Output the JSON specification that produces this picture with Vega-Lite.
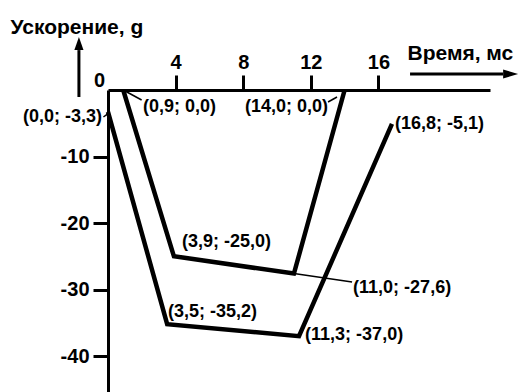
{
  "$schema": "https://vega.github.io/schema/vega-lite/v6.json",
  "width": 382,
  "height": 302,
  "autosize": {"type": "none"},
  "padding": {"left": 108, "top": 90, "right": 29, "bottom": 0},
  "background": "white",
  "config": {
    "view": {"stroke": null},
    "font": "Liberation Sans",
    "axis": {
      "grid": false,
      "domainColor": "black",
      "domainWidth": 3,
      "tickColor": "black",
      "tickWidth": 3,
      "labelColor": "black",
      "labelFont": "Liberation Sans",
      "labelFontSize": 20,
      "labelFontWeight": "bold",
      "titleColor": "black",
      "titleFont": "Liberation Sans",
      "titleFontSize": 21,
      "titleFontWeight": "bold"
    }
  },
  "datasets": {
    "curves": [
      {"curve": "inner", "i": 1, "t": 0.9, "a": 0.0},
      {"curve": "inner", "i": 2, "t": 3.9, "a": -25.0},
      {"curve": "inner", "i": 3, "t": 11.0, "a": -27.6},
      {"curve": "inner", "i": 4, "t": 14.0, "a": 0.0},
      {"curve": "outer", "i": 1, "t": 0.0, "a": -3.3},
      {"curve": "outer", "i": 2, "t": 3.5, "a": -35.2},
      {"curve": "outer", "i": 3, "t": 11.3, "a": -37.0},
      {"curve": "outer", "i": 4, "t": 16.8, "a": -5.1}
    ],
    "labels": [
      {"label": "(0,0; -3,3)", "t": -0.36, "a": -4.06},
      {"label": "(0,9; 0,0)", "t": 2.07, "a": -2.56},
      {"label": "(14,0; 0,0)", "t": 13.02, "a": -2.56},
      {"label": "(16,8; -5,1)", "t": 16.98, "a": -5.04},
      {"label": "(3,9; -25,0)", "t": 4.38, "a": -22.85},
      {"label": "(11,0; -27,6)", "t": 14.5, "a": -29.77},
      {"label": "(3,5; -35,2)", "t": 3.55, "a": -33.37},
      {"label": "(11,3; -37,0)", "t": 11.66, "a": -36.83}
    ],
    "leaders": [
      {"t": 0.9, "a": 0.0, "t2": 1.99, "a2": -1.5},
      {"t": 13.02, "a": -1.8, "t2": 13.55, "a2": -1.05},
      {"t": 11.0, "a": -27.6, "t2": 14.44, "a2": -28.86},
      {"t": -0.27, "a": -4.06, "t2": -0.06, "a2": -3.68}
    ],
    "one": [{"k": 1}]
  },
  "layer": [
    {
      "data": {"name": "curves"},
      "mark": {"type": "line", "color": "black", "strokeWidth": 4.5, "strokeJoin": "miter", "strokeCap": "butt"},
      "encoding": {
        "x": {
          "field": "t", "type": "quantitative",
          "scale": {"domain": [0, 22.6], "nice": false, "zero": false},
          "axis": {
            "orient": "top",
            "values": [4, 8, 12, 16],
            "tickSize": 15,
            "labelPadding": 3,
            "title": "Время, мс",
            "titleX": 299,
            "titleY": -31,
            "titleAlign": "left",
            "titleBaseline": "alphabetic",
            "titleAngle": 0
          }
        },
        "y": {
          "field": "a", "type": "quantitative",
          "scale": {"domain": [-45.4, 0], "nice": false, "zero": false},
          "axis": {
            "orient": "left",
            "values": [-10, -20, -30, -40],
            "labelExpr": "'' + datum.value",
            "tickSize": 15,
            "labelPadding": 4,
            "title": "Ускорение, g",
            "titleX": -98,
            "titleY": -57,
            "titleAlign": "left",
            "titleBaseline": "alphabetic",
            "titleAngle": 0
          }
        },
        "detail": {"field": "curve"},
        "order": {"field": "i"}
      }
    },
    {
      "data": {"name": "leaders"},
      "mark": {"type": "rule", "color": "black", "strokeWidth": 1.5},
      "encoding": {
        "x": {"field": "t", "type": "quantitative"},
        "y": {"field": "a", "type": "quantitative"},
        "x2": {"field": "t2"},
        "y2": {"field": "a2"}
      }
    },
    {
      "data": {"name": "labels"},
      "transform": [{"filter": "datum.label == '(0,0; -3,3)' || datum.label == '(14,0; 0,0)'"}],
      "mark": {"type": "text", "align": "right", "baseline": "middle", "fontSize": 18, "fontWeight": "bold", "font": "Liberation Sans", "color": "black"},
      "encoding": {
        "x": {"field": "t", "type": "quantitative"},
        "y": {"field": "a", "type": "quantitative"},
        "text": {"field": "label"}
      }
    },
    {
      "data": {"name": "labels"},
      "transform": [{"filter": "datum.label != '(0,0; -3,3)' && datum.label != '(14,0; 0,0)'"}],
      "mark": {"type": "text", "align": "left", "baseline": "middle", "fontSize": 18, "fontWeight": "bold", "font": "Liberation Sans", "color": "black"},
      "encoding": {
        "x": {"field": "t", "type": "quantitative"},
        "y": {"field": "a", "type": "quantitative"},
        "text": {"field": "label"}
      }
    },
    {
      "data": {"name": "one"},
      "mark": {"type": "text", "text": "0", "align": "right", "baseline": "alphabetic", "dx": -3, "dy": -3, "fontSize": 20, "fontWeight": "bold", "font": "Liberation Sans", "color": "black"},
      "encoding": {
        "x": {"datum": 0, "type": "quantitative"},
        "y": {"datum": 0, "type": "quantitative"}
      }
    },
    {
      "data": {"name": "one"},
      "mark": {"type": "rule", "color": "black", "strokeWidth": 3},
      "encoding": {
        "x": {"datum": -1.72, "type": "quantitative"},
        "y": {"datum": 6.0, "type": "quantitative"},
        "y2": {"datum": -1.05}
      }
    },
    {
      "data": {"name": "one"},
      "mark": {"type": "point", "shape": "M0,-1L0.7,1L-0.7,1Z", "size": 169, "filled": true, "color": "black", "opacity": 1, "strokeWidth": 0},
      "encoding": {
        "x": {"datum": -1.72, "type": "quantitative"},
        "y": {"datum": 6.99, "type": "quantitative"}
      }
    },
    {
      "data": {"name": "one"},
      "mark": {"type": "rule", "color": "black", "strokeWidth": 3},
      "encoding": {
        "x": {"datum": 17.87, "type": "quantitative"},
        "x2": {"datum": 23.37},
        "y": {"datum": 2.41, "type": "quantitative"}
      }
    },
    {
      "data": {"name": "one"},
      "mark": {"type": "point", "shape": "M1,0L-1,0.6L-1,-0.6Z", "size": 225, "filled": true, "color": "black", "opacity": 1, "strokeWidth": 0},
      "encoding": {
        "x": {"datum": 23.82, "type": "quantitative"},
        "y": {"datum": 2.41, "type": "quantitative"}
      }
    }
  ]
}
